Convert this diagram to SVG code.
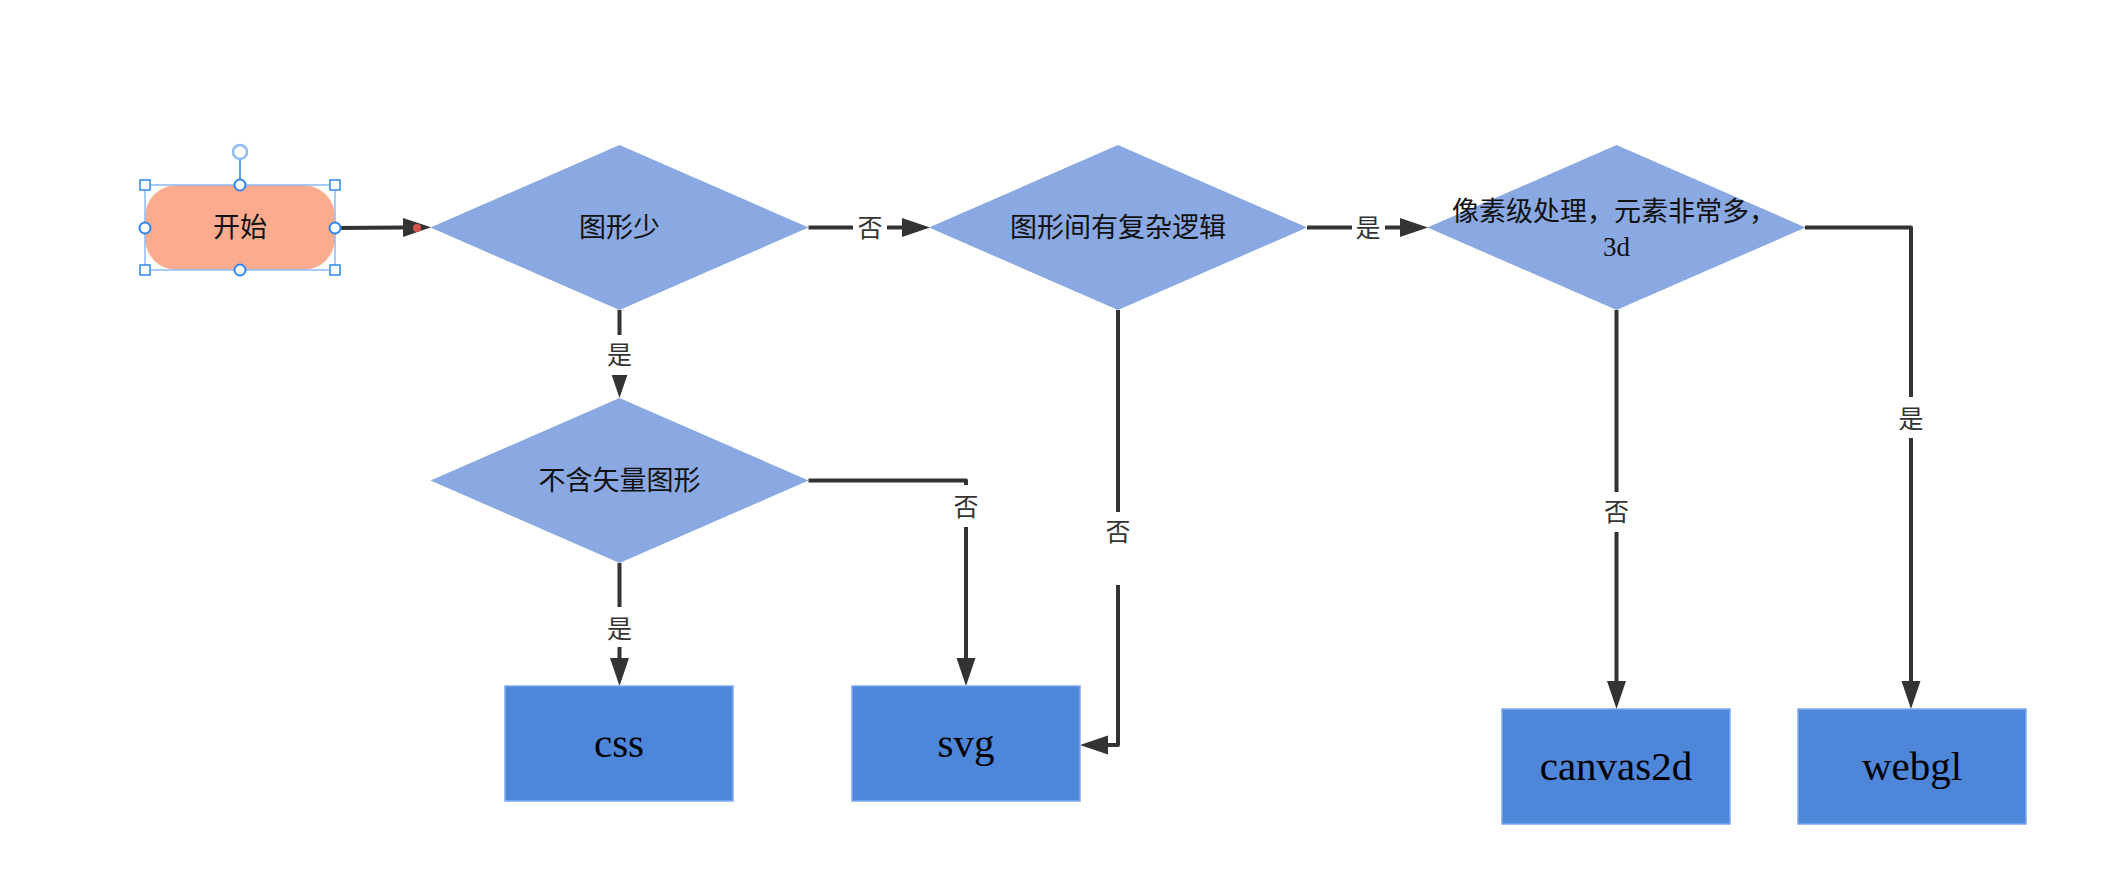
<svg xmlns="http://www.w3.org/2000/svg" width="2128" height="888" viewBox="0 0 2128 888">
  <style>
    .dia { fill: #8aa8e1; }
    .box { fill: #4e86da; stroke: #7eaaf0; stroke-width: 1.5; }
    .ntext { font-family: "Liberation Serif", "Noto Sans CJK SC", serif; font-size: 27px; fill: #111; text-anchor: middle; dominant-baseline: central; }
    .btext { font-family: "Liberation Serif", "Noto Sans CJK SC", serif; font-size: 41px; fill: #000; text-anchor: middle; dominant-baseline: central; }
    .conn { fill: none; stroke: #333; stroke-width: 4; stroke-linejoin: round; marker-end: url(#arrow); }
    .lbg { fill: #fff; }
    .ltext { font-family: "Liberation Serif", "Noto Sans CJK SC", serif; font-size: 25px; fill: #333; text-anchor: middle; dominant-baseline: central; }
    .sel { fill: none; stroke: #8dbaf5; stroke-width: 1.5; }
    .hsq { fill: #fff; stroke: #2f86f0; stroke-width: 1.5; }
    .hci { fill: #fff; stroke: #2f86f0; stroke-width: 2; }
  </style>
  <defs>
    <marker id="arrow" markerUnits="userSpaceOnUse" markerWidth="30" markerHeight="20" refX="0" refY="9.5" orient="auto">
      <path d="M0,0 L28,9.5 L0,19 z" fill="#333"/>
    </marker>
  </defs>
  <rect width="2128" height="888" fill="#fff"/>

  <g id="connectors">
    <path class="conn" d="M335,228 L403,227.5"/>
    <path class="conn" d="M808.5,227.5 H902"/>
    <path class="conn" d="M1307,227.5 H1400"/>
    <path class="conn" d="M619.5,310 V370"/>
    <path class="conn" d="M619.5,563 V658"/>
    <path class="conn" d="M808.5,480.5 H966 V658"/>
    <path class="conn" d="M1118,310 V745 H1108"/>
    <path class="conn" d="M1616.5,310 V681"/>
    <path class="conn" d="M1805,227.5 H1911 V681"/>
    <circle cx="417" cy="228" r="4" fill="#d9534f"/>

    <rect class="lbg" x="853" y="212" width="34" height="32"/>
    <text class="ltext" x="870" y="228">否</text>
    <rect class="lbg" x="1352" y="212" width="33" height="32"/>
    <text class="ltext" x="1368" y="228">是</text>
    <rect class="lbg" x="603" y="335" width="33" height="40"/>
    <text class="ltext" x="619.5" y="355">是</text>
    <rect class="lbg" x="603" y="607" width="33" height="40"/>
    <text class="ltext" x="619.5" y="629">是</text>
    <rect class="lbg" x="950" y="485" width="33" height="42"/>
    <text class="ltext" x="966" y="507">否</text>
    <rect class="lbg" x="1101" y="512" width="34" height="73"/>
    <text class="ltext" x="1118" y="532">否</text>
    <rect class="lbg" x="1600" y="492" width="33" height="40"/>
    <text class="ltext" x="1616.5" y="512">否</text>
    <rect class="lbg" x="1894" y="397" width="34" height="41"/>
    <text class="ltext" x="1911" y="419">是</text>
  </g>

  <g id="start">
    <rect x="145" y="185" width="190" height="85" rx="32" ry="32" fill="#fbab8e"/>
    <text class="ntext" x="240" y="228">开始</text>
    <rect class="sel" x="145" y="185" width="190" height="85"/>
    <line x1="240" y1="159" x2="240" y2="179" stroke="#5c9ff2" stroke-width="2"/>
    <circle cx="240" cy="152" r="7" fill="#fff" stroke="#8dbaf5" stroke-width="2.5"/>
    <rect class="hsq" x="140" y="180" width="10" height="10"/>
    <rect class="hsq" x="330" y="180" width="10" height="10"/>
    <rect class="hsq" x="140" y="265" width="10" height="10"/>
    <rect class="hsq" x="330" y="265" width="10" height="10"/>
    <circle class="hci" cx="240" cy="185" r="5.5"/>
    <circle class="hci" cx="240" cy="270" r="5.5"/>
    <circle class="hci" cx="145" cy="228" r="5.5"/>
    <circle class="hci" cx="335" cy="228" r="5.5"/>
  </g>

  <g id="d1">
    <polygon class="dia" points="619.5,145 808.5,227.5 619.5,310 430.5,227.5"/>
    <text class="ntext" x="619.5" y="228">图形少</text>
  </g>
  <g id="d2">
    <polygon class="dia" points="1118,145 1307,227.5 1118,310 929,227.5"/>
    <text class="ntext" x="1118" y="228">图形间有复杂逻辑</text>
  </g>
  <g id="d3">
    <polygon class="dia" points="1616.5,145 1805.5,227.5 1616.5,310 1427.5,227.5"/>
    <text class="ntext" x="1614" y="212">像素级处理，元素非常多，</text>
    <text class="ntext" x="1616.5" y="247">3d</text>
  </g>
  <g id="d4">
    <polygon class="dia" points="619.5,398 808.5,480.5 619.5,563 430.5,480.5"/>
    <text class="ntext" x="619.5" y="481">不含矢量图形</text>
  </g>

  <g id="css">
    <rect class="box" x="505" y="686" width="228" height="115"/>
    <text class="btext" x="619" y="743">css</text>
  </g>
  <g id="svg">
    <rect class="box" x="852" y="686" width="228" height="115"/>
    <text class="btext" x="966" y="743">svg</text>
  </g>
  <g id="canvas2d">
    <rect class="box" x="1502" y="709" width="228" height="115"/>
    <text class="btext" x="1616" y="766">canvas2d</text>
  </g>
  <g id="webgl">
    <rect class="box" x="1798" y="709" width="228" height="115"/>
    <text class="btext" x="1912" y="766">webgl</text>
  </g>
</svg>
